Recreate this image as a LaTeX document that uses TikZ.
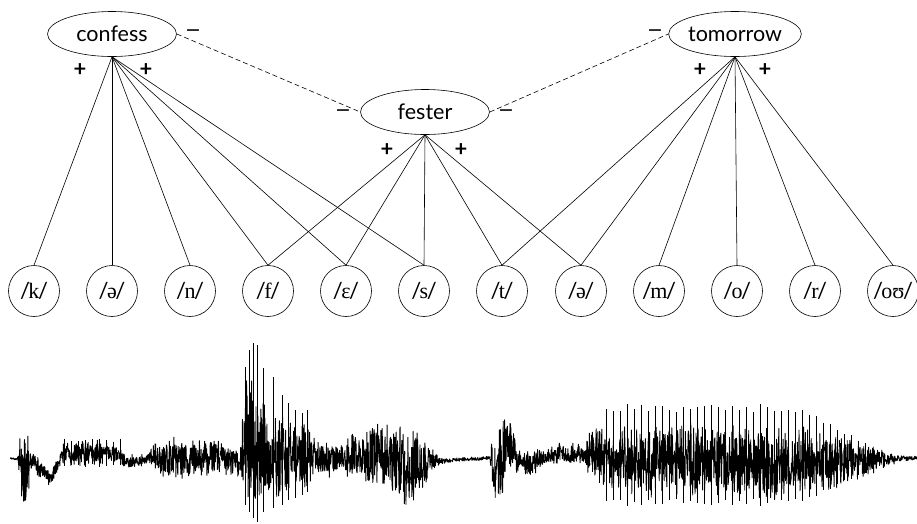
\documentclass[tikz,border=0pt]{standalone}
\usepackage{fontspec}
\setmainfont{Lato}
\newfontfamily\ipafont{Liberation Serif}
\newfontfamily\signfont{DejaVu Sans}
\usetikzlibrary{shapes.geometric}
\newcommand{\phon}[1]{/\kern-1.5pt{\ipafont #1}\kern-1.5pt/}

\begin{document}
\begin{tikzpicture}[
    x=1pt, y=-1pt,
    word/.style={
      draw,
      ellipse,
      line width=0.6pt,
      minimum width=129pt,
      minimum height=45pt,
      inner sep=0pt,
      font=\fontsize{21.5}{23}\selectfont
    },
    phone/.style={
      draw,
      circle,
      line width=0.6pt,
      minimum size=51pt,
      inner sep=0pt,
      font=\fontsize{22}{24}\selectfont
    },
    weight/.style={
      inner sep=0pt,
      font=\fontsize{22}{24}\selectfont\bfseries
    },
    inhibweight/.style={
      inner sep=0pt,
      font=\signfont\fontsize{19}{21}\selectfont
    },
    link/.style={line width=0.6pt},
    inhib/.style={line width=0.6pt, dash pattern=on 5pt off 3pt},
    wave/.style={line width=0.9pt, line join=round}
  ]
    \useasboundingbox (0,0) rectangle (917,523);

    % words
    \node[word] (confess) at (112,34) {confess};
    \node[word] (fester) at (425,112) {fester};
    \node[word] (tomorrow) at (735,34) {tomorrow};

    % phonemes
    \node[phone] (k) at (34,291) {\phon{k}};
    \node[phone] (schwaA) at (112,291) {\phon{ə}};
    \node[phone] (n) at (190,291) {\phon{n}};
    \node[phone] (f) at (268,291) {\phon{f}};
    \node[phone] (eps) at (346,291) {\phon{ɛ}};
    \node[phone] (s) at (424,291) {\phon{s}};
    \node[phone] (t) at (502,291) {\phon{t}};
    \node[phone] (schwaB) at (581,291) {\phon{ə}};
    \node[phone] (m) at (659,291) {\phon{m}};
    \node[phone] (o) at (737,291) {\phon{o}};
    \node[phone] (r) at (815,291) {\phon{r}};
    \node[phone] (ou) at (893,291) {\phon{oʊ}};

    % excitatory links
    \foreach \p in {k,schwaA,n,f,eps,s}
      \draw[link] (confess.south) -- (\p.north);
    \foreach \p in {f,eps,s,t,schwaB}
      \draw[link] (fester.south) -- (\p.north);
    \foreach \p in {t,schwaB,m,o,r,ou}
      \draw[link] (tomorrow.south) -- (\p.north);

    % inhibitory links
    \draw[inhib] (confess.east) -- (fester.west);
    \draw[inhib] (fester.east) -- (tomorrow.west);

    % weights
    \node[weight] (plusA) at (80,70) {+};
    \node[weight] (plusB) at (146,70) {+};
    \node[weight] (plusC) at (387,150) {+};
    \node[weight] (plusD) at (461,150) {+};
    \node[weight] (plusE) at (700,70) {+};
    \node[weight] (plusF) at (765,70) {+};
    \node[inhibweight] (minusA) at (193,33) {−};
    \node[inhibweight] (minusB) at (343,113) {−};
    \node[inhibweight] (minusC) at (506,113) {−};
    \node[inhibweight] (minusD) at (655,33) {−};

    % waveform: noise band between envelope points x/top/bottom
    \pgfmathsetseed{11}
    \foreach \wx/\wt/\wb [remember=\wx as \prevx (initially 10),
        remember=\wt as \prevt (initially 457),
        remember=\wb as \prevb (initially 459)] in {
        18/455/462, 22/418/510, 26/420/515, 32/450/470, 40/460/478,
        50/468/488, 58/455/472, 64/440/470, 80/438/468, 100/440/465,
        118/445/462, 125/452/470, 135/455/468, 148/452/465, 155/438/472,
        170/436/482, 190/438/480, 205/435/480, 220/438/477, 232/443/477,
        240/440/480, 244/380/500, 250/370/515, 256/375/522, 265/395/510,
        280/410/505, 295/420/495, 310/425/490, 320/440/478, 332/438/480,
        340/445/470, 345/430/477, 360/432/482, 375/418/488, 390/420/495,
        405/423/508, 420/428/502, 430/440/475, 438/455/468, 445/458/463,
        490/456/460, 493/415/512, 500/408/515, 510/412/480, 518/445/475,
        530/450/478, 545/448/465, 560/442/465, 585/442/465, 590/428/480,
        610/422/492, 640/420/500, 700/420/500, 760/420/502, 800/425/497,
        840/432/490, 870/443/477, 885/450/468, 900/455/463, 917/456/460} {
      \pgfmathtruncatemacro\ns{3*(\wx-\prevx)+2}
      \pgfmathsetmacro\ct{(\prevt+\prevb)/2}
      \pgfmathsetmacro\dc{((\wt+\wb)/2-\ct)/(\wx-\prevx)}
      \pgfmathsetmacro\hz{(\prevb-\prevt)/2}
      \pgfmathsetmacro\dh{((\wb-\wt)/2-\hz)/(\wx-\prevx)}
      \draw[wave] plot[variable=\u, domain=\prevx:\wx, samples=\ns]
        (\u, {\ct+\dc*(\u-\prevx)+(\hz+\dh*(\u-\prevx))*rand*(0.55+0.45*rnd)});
    }

    % periodic voicing spikes
    \foreach \sx in {64,71,...,120}
      \draw[wave] (\sx,{438+4*rnd}) -- (\sx,{464+4*rnd});
    \foreach \sx/\st/\sb in {245/367/505, 249/350/512, 253/343/518, 257/345/522,
        263/368/512, 273/377/508, 282/395/505, 288/403/500, 295/410/498,
        302/413/495, 307/410/492}
      \draw[wave] (\sx,\st) -- (\sx,\sb);
    \foreach \sx in {592,599,...,880} {
      \pgfmathsetmacro\amp{54*min(1,(\sx-586)/22)*min(1,(892-\sx)/95)*(0.85+0.15*rnd)}
      \draw[wave] (\sx,{458-\amp}) -- (\sx,{460+0.85*\amp});
    }
\end{tikzpicture}
\end{document}
